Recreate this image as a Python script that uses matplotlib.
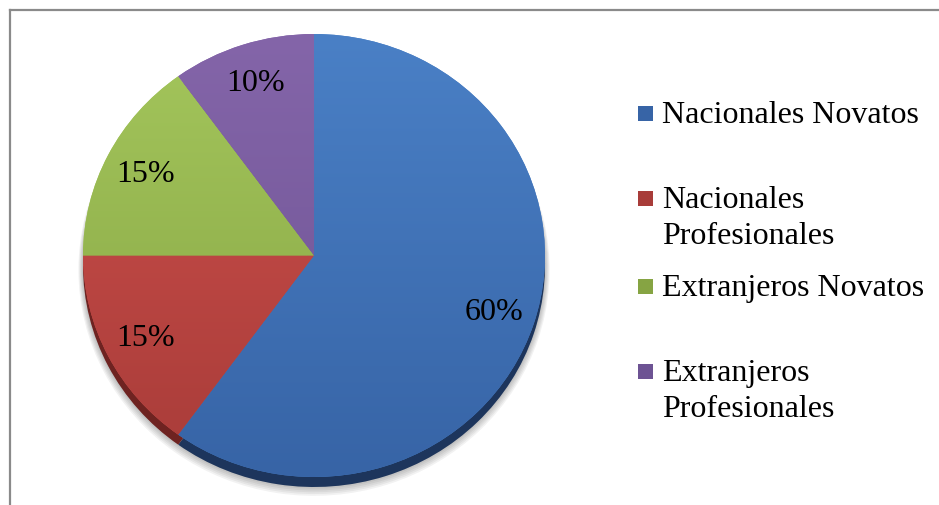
import matplotlib.pyplot as plt
import numpy as np
from matplotlib.colors import LinearSegmentedColormap
from matplotlib.lines import Line2D
from matplotlib.patches import Rectangle

categorias = ['Nacionales Novatos', 'Nacionales\nProfesionales',
              'Extranjeros Novatos', 'Extranjeros\nProfesionales']
porcentajes = [60, 15, 15, 10]
color_claro = ['#4a80c6', '#cf504c', '#a4c65c', '#8465a9']
color_oscuro = ['#3764a6', '#a83c39', '#86a443', '#6d5393']
color_borde = ['#1d355c', '#6e2321', '#56692a', '#45345f']

plt.rcParams['font.family'] = ['Liberation Serif', 'DejaVu Serif']

W, H = 939, 506
fig = plt.figure(figsize=(W / 100, H / 100), dpi=100)

# elipse del pastel en pixeles: x 83..545, y 35..478
x0, x1, y0, y1 = 83, 545, 35, 478
ax = fig.add_axes([x0 / W, 1 - y1 / H, (x1 - x0) / W, (y1 - y0) / H])
ax.set_axis_off()

# sombra suave y borde oscuro (efecto 3D)
rim = 10 / ((y1 - y0) / 2)
for k in range(6):
    sombra, _ = ax.pie(porcentajes, colors=['#000000'] * 4, startangle=90,
                       counterclock=False, center=(0, -rim - 0.004 * k), radius=1.0 + 0.004 * k,
                       wedgeprops=dict(linewidth=0, alpha=0.05))
    for w in sombra:
        w.set_clip_on(False)
base, _ = ax.pie(porcentajes, colors=color_borde, startangle=90, counterclock=False,
                 center=(0, -rim), wedgeprops=dict(linewidth=0))
for w in base:
    w.set_clip_on(False)

wedges, _, pct = ax.pie(porcentajes, colors=color_claro, startangle=90, counterclock=False,
                        autopct='%d%%', pctdistance=0.82,
                        wedgeprops=dict(linewidth=0),
                        textprops=dict(fontsize=23, color='black'))
grad = np.linspace(0, 1, 256).reshape(-1, 1)
for w, c1, c2 in zip(wedges, color_claro, color_oscuro):
    w.set_clip_on(False)
    cmap = LinearSegmentedColormap.from_list('g', [c1, c2])
    im = ax.imshow(grad, cmap=cmap, aspect='auto', origin='upper',
                   extent=[-1, 1, -1, 1], zorder=w.get_zorder() + 0.1)
    im.set_clip_path(w)
for t in pct:
    t.set_zorder(5)

ax.set_xlim(-1, 1)
ax.set_ylim(-1, 1)
ax.set_aspect('auto')

# marco
fig.add_artist(Line2D([10 / W, 10 / W], [0, 1 - 11 / H], transform=fig.transFigure,
                      color='#8a8a8a', linewidth=1.6))
fig.add_artist(Line2D([10 / W, 1], [1 - 11 / H, 1 - 11 / H], transform=fig.transFigure,
                      color='#8a8a8a', linewidth=1.6))

# leyenda
pos_y = [114, 199, 287, 372]
for nombre, c1, c2, yy in zip(categorias, color_claro, color_oscuro, pos_y):
    fig.add_artist(Rectangle((638 / W, 1 - (yy + 8) / H), 15 / W, 15 / H,
                             transform=fig.transFigure, facecolor=c2, edgecolor='none'))
    fig.text(662 / W, 1 - (yy - 13) / H, nombre, fontsize=23, va='top', ha='left',
             linespacing=1.34)

fig.savefig('out.png', dpi=100)
